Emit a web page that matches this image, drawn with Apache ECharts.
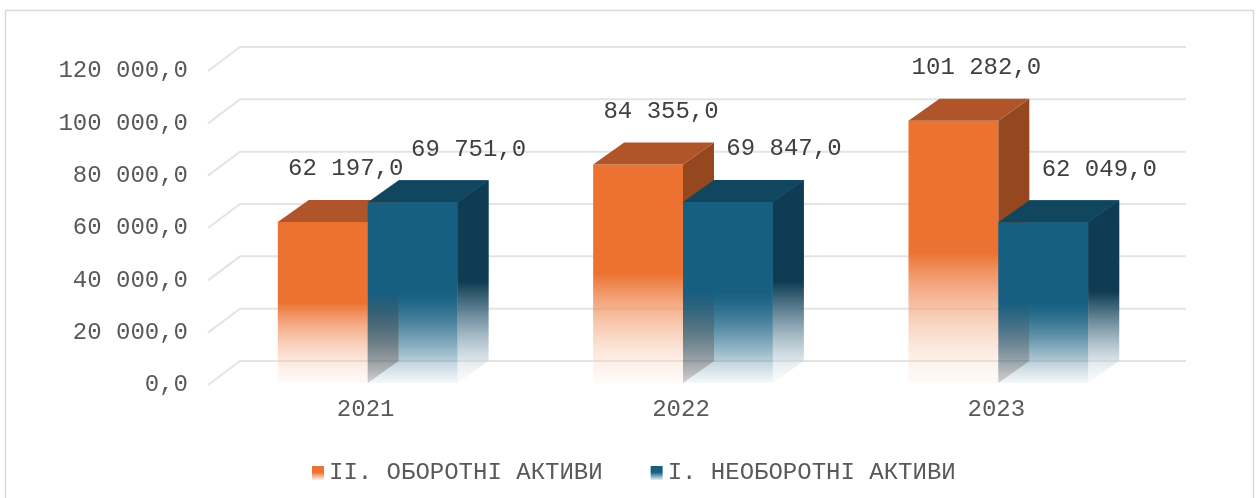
<!DOCTYPE html>
<html>
<head>
<meta charset="utf-8">
<script src="https://cdn.jsdelivr.net/npm/echarts@6/dist/echarts.min.js"></script>
<style>
html, body { margin: 0; padding: 0; background: #fff; }
#main { width: 1259px; height: 498px; }
</style>
</head>
<body>
<div id="main"></div>
<script>
var years = ['2021', '2022', '2023'];
var currentAssets = [62197, 84355, 101282];     // II. ОБОРОТНІ АКТИВИ
var nonCurrentAssets = [69751, 69847, 62049];   // I. НЕОБОРОТНІ АКТИВИ
var yTicks = [0, 20000, 40000, 60000, 80000, 100000, 120000];
var seriesNames = ['II. ОБОРОТНІ АКТИВИ', 'I. НЕОБОРОТНІ АКТИВИ'];

// fake 3d: wall depth, bar depth, bars sit a little behind the front edge
var WALL_DX = 32, WALL_DY = -24;
var DX = 31, DY = -22;
var BAR_SHIFT = [2, -2];
var BAR_SCALE = 0.99;
var FONT = 'Liberation Mono';

// 62197 -> "62 197,0"
function fmt(v) {
    var p = v.toFixed(1).split('.');
    return p[0].replace(/\B(?=(\d{3})+$)/g, ' ') + ',' + p[1];
}

function fade(from, to, start) {
    return {
        type: 'linear', x: 0, y: 0, x2: 0, y2: 1,
        colorStops: [
            { offset: 0, color: from },
            { offset: start, color: from },
            { offset: 1, color: to }
        ]
    };
}

var palettes = [
    {
        front: fade('#EC7232', 'rgba(250,225,210,0.15)', 0.5),
        side: fade('#95481F', 'rgba(120,90,80,0.25)', 0.5),
        top: '#B0552A',
        legend: fade('#EC7232', '#FFF1E9', 0.45),
        labelDx: 23
    },
    {
        back: fade('#3B7C9D', 'rgba(225,236,242,0.4)', 0.5),
        front: fade('rgba(23,95,129,1)', 'rgba(23,95,129,0.04)', 0.5),
        side: fade('#0F3C52', 'rgba(230,238,243,0.2)', 0.5),
        top: '#11465F',
        legend: fade('#175F81', '#E6EEF3', 0.45),
        labelDx: 56
    }
];

function barRenderer(s) {
    return function (params, api) {
        var c = api.value(0), v = api.value(1);
        var base = api.coord([c, 0]);
        var top = api.coord([c, v]);
        var bw = api.size([1, 0])[0] * 0.285;
        var xc = base[0] + BAR_SHIFT[0];
        var xl = s === 0 ? xc - bw : xc;
        var xr = xl + bw;
        var yb = base[1] + BAR_SHIFT[1];
        var yt = yb - (base[1] - top[1]) * BAR_SCALE;
        var pal = palettes[s];
        var children = [];
        if (pal.back) {
            children.push({
                type: 'rect',
                shape: { x: xl + DX, y: yt + DY, width: bw, height: yb - yt },
                style: { fill: pal.back }
            });
        }
        children.push({
            type: 'rect',
            shape: { x: xl, y: yt, width: bw, height: yb - yt },
            style: { fill: pal.front }
        });
        children.push({
            type: 'polygon',
            shape: { points: [[xr, yt], [xr + DX, yt + DY], [xr + DX, yb + DY], [xr, yb]] },
            style: { fill: pal.side }
        });
        children.push({
            type: 'polygon',
            shape: { points: [[xl, yt], [xl + DX, yt + DY], [xr + DX, yt + DY], [xr, yt]] },
            style: { fill: pal.top }
        });
        children.push({
            type: 'text',
            style: {
                text: fmt(v),
                x: (xl + xr) / 2 + pal.labelDx,
                y: yt - 53,
                align: 'center',
                verticalAlign: 'middle',
                fill: '#404040',
                font: '24px "' + FONT + '"'
            }
        });
        return { type: 'group', children: children };
    };
}

// back wall gridlines + the diagonal ticks on the side wall
function gridRenderer(params, api) {
    var y = api.coord([0, api.value(1)])[1];
    var x0 = params.coordSys.x;
    var x1 = x0 + params.coordSys.width;
    return {
        type: 'polyline',
        shape: { points: [[x0, y], [x0 + WALL_DX, y + WALL_DY], [x1 + WALL_DX, y + WALL_DY]] },
        style: { stroke: '#e4e4e4', lineWidth: 2, fill: null }
    };
}

var myChart = echarts.init(document.getElementById('main'));

var option = {
    backgroundColor: '#fff',
    animation: false,
    graphic: [{
        type: 'rect',
        silent: true,
        shape: { x: 5.5, y: 10.5, width: 1248, height: 520 },
        style: { fill: null, stroke: '#d9d9d9', lineWidth: 1.5 }
    }],
    grid: { left: 208, right: 105, top: 71, bottom: 113 },
    legend: {
        data: seriesNames,
        left: 307,
        top: 456,
        icon: 'rect',
        itemWidth: 12,
        itemHeight: 14,
        itemGap: 48,
        textStyle: { fontFamily: FONT, fontSize: 24, color: '#595959' }
    },
    xAxis: {
        type: 'category',
        data: years,
        axisLine: { show: false },
        axisTick: { show: false },
        axisLabel: { margin: 13, fontFamily: FONT, fontSize: 24, color: '#595959' }
    },
    yAxis: {
        type: 'value',
        min: 0,
        max: 120000,
        interval: 20000,
        splitLine: { show: false },
        axisLine: { show: false },
        axisTick: { show: false },
        axisLabel: { margin: 20, fontFamily: FONT, fontSize: 24, color: '#595959', formatter: fmt }
    },
    series: [
        {
            type: 'custom',
            name: 'grid',
            silent: true,
            renderItem: gridRenderer,
            data: yTicks.map(function (t) { return [0, t]; })
        },
        {
            type: 'custom',
            name: seriesNames[0],
            renderItem: barRenderer(0),
            itemStyle: { color: palettes[0].legend },
            data: currentAssets.map(function (v, i) { return [i, v]; })
        },
        {
            type: 'custom',
            name: seriesNames[1],
            renderItem: barRenderer(1),
            itemStyle: { color: palettes[1].legend },
            data: nonCurrentAssets.map(function (v, i) { return [i, v]; })
        }
    ]
};

myChart.setOption(option);
</script>
</body>
</html>
